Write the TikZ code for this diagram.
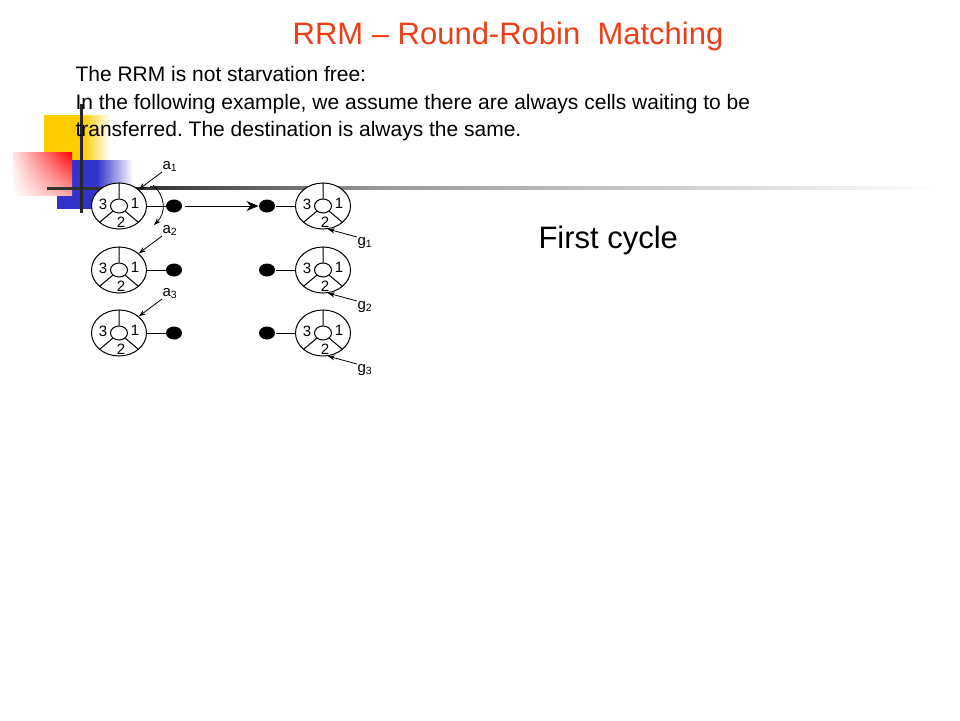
\documentclass[tikz,border=0pt]{standalone}
\usepackage{fontspec}
\setmainfont{Liberation Sans}
\usetikzlibrary{arrows.meta, shapes.geometric, shadings}
\frenchspacing

\definecolor{titlered}{RGB}{238,62,24}
\definecolor{boxyellow}{RGB}{255,204,0}
\definecolor{boxblue}{RGB}{51,51,204}

\begin{document}
\begin{tikzpicture}[x=1pt, y=-1pt, line width=1pt, font=\fontsize{15}{17}\selectfont,
	port/.style={draw, ellipse, fill=white, minimum width=55pt, minimum height=46pt, inner sep=0pt},
	hub/.style={draw, ellipse, minimum width=17pt, minimum height=14pt, inner sep=0pt},
	cell/.style={fill, ellipse, minimum width=16pt, minimum height=13pt, inner sep=0pt},
	lbl/.style={inner sep=0pt},
	ptr/.style={-{Stealth[length=7pt, width=5pt]}, line width=0.8pt}]
	\useasboundingbox (0,0) rectangle (960,720);
	
	% Corner decoration
	\fill[boxyellow] (44,115) rectangle (83,160);
	\shade[left color=boxyellow, right color=white] (83,115) rectangle (110,160);
	\fill[boxblue] (57,160) rectangle (97,209);
	\shade[left color=boxblue, right color=white] (97,160) rectangle (133,209);
	\shade[upper right=red, upper left=red!10, lower right=red!35, lower left=white] (13,152) rectangle (72,195);
	\fill[black!80] (47,186.5) rectangle (150,189.5);
	\shade[left color=black!80, right color=black!40] (150,186.5) rectangle (380,189.5);
	\shade[left color=black!40, right color=white] (380,186.5) rectangle (940,189.5);
	\fill[black!85] (79.5,104) rectangle (82.5,213);
	
	% Title and text
	\node[titlered, anchor=base, font=\fontsize{31}{36}\selectfont] (title) at (508,44) {RRM -- Round-Robin\ \ Matching};
	\node[anchor=base west, inner sep=0pt, font=\fontsize{21}{27}\selectfont] (intro1) at (75,81.7) {The RRM is not starvation free:};
	\node[anchor=base west, inner sep=0pt, font=\fontsize{21}{27}\selectfont] (intro2) at (75,109) {In the following example, we assume there are always cells waiting to be};
	\node[anchor=base west, inner sep=0pt, font=\fontsize{21}{27}\selectfont] (intro3) at (75,136.5) {transferred. The destination is always the same.};
	\node[anchor=base west, inner sep=0pt, font=\fontsize{31}{36}\selectfont] (cycle) at (538,248.3) {First cycle};
	
	% Input and output ports
	\foreach \r/\y in {1/206, 2/270, 3/333} {
		\node[port] (in\r) at (119,\y) {};
		\node[hub] (ic\r) at (119,\y) {};
		\draw (ic\r.north) -- (in\r.north) (ic\r.220) -- (in\r.220) (ic\r.320) -- (in\r.320);
		\node[lbl] at ([xshift=-16pt, yshift=2pt]in\r.center) {3};
		\node[lbl] at ([xshift=16pt, yshift=3pt]in\r.center) {1};
		\node[lbl] at ([xshift=2pt, yshift=-16pt]in\r.center) {2};
		
		\node[port] (out\r) at (323,\y) {};
		\node[hub] (oc\r) at (323,\y) {};
		\draw (oc\r.north) -- (out\r.north) (oc\r.220) -- (out\r.220) (oc\r.320) -- (out\r.320);
		\node[lbl] at ([xshift=-16pt, yshift=2pt]out\r.center) {3};
		\node[lbl] at ([xshift=16pt, yshift=3pt]out\r.center) {1};
		\node[lbl] at ([xshift=2pt, yshift=-16pt]out\r.center) {2};
		
		\node[cell] (ld\r) at (174,\y) {};
		\node[cell] (rd\r) at (267,\y) {};
		\draw (in\r) -- (ld\r);
		\draw (rd\r) -- (out\r);
		
		% Accept and grant pointers
		\node[lbl, anchor=south west] (a\r) at (162,\y-34) {a\textsubscript{\r}};
		\draw[ptr] (a\r.south west) -- (in\r.40);
		\node[lbl, anchor=north west] (g\r) at (357,\y+31) {g\textsubscript{\r}};
		\draw[ptr] (g\r.north west) -- (out\r.-78);
	}
	
	% Request
	\draw[-{Stealth[length=12pt, width=10pt]}, shorten <=2pt] (ld1) -- (rd1);
	\coordinate (sw1) at (153,185);
	\coordinate (sw2) at (154,225);
	\draw[ptr] (sw1) .. controls (166,197) and (166,213) .. (sw2);
\end{tikzpicture}
\end{document}
